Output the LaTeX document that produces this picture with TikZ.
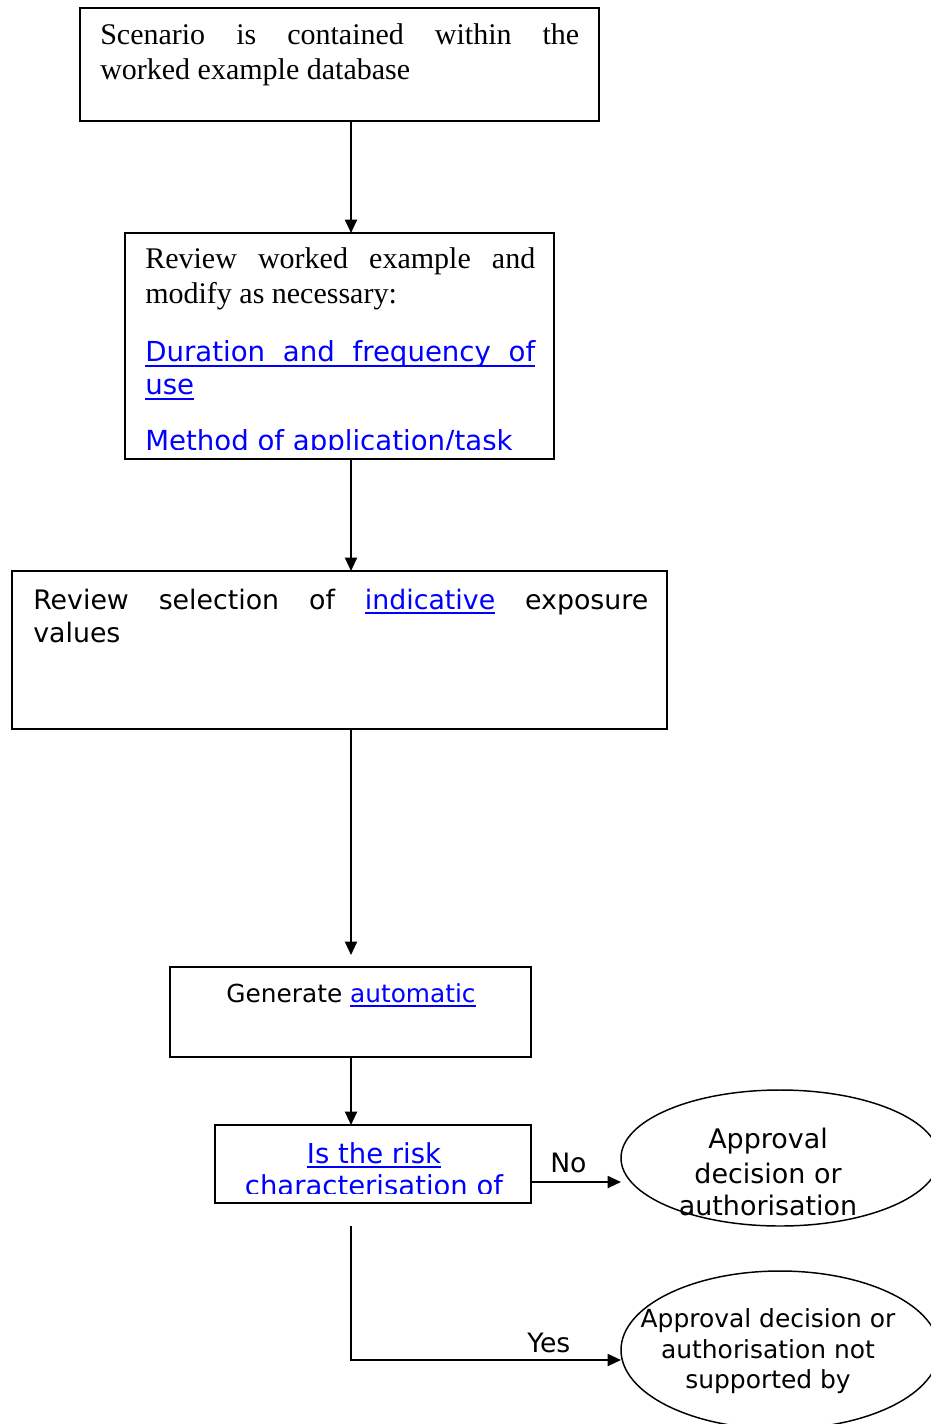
\documentclass[tikz,border=0pt]{standalone}
\usepackage{fontspec}
\setmainfont{Liberation Serif}
\newfontfamily\sansv{DejaVu Sans}
\usetikzlibrary{arrows.meta,shapes.geometric}
\definecolor{linkblue}{RGB}{0,0,255}
\newsavebox\ulbox
\newcommand\ulin[1]{\sbox\ulbox{#1}\rlap{\rule[-3.75pt]{\wd\ulbox}{1.5pt}}\usebox\ulbox}
\begin{document}
\begin{tikzpicture}[x=0.75pt,y=-0.75pt,
  box/.style={draw, line width=1.4pt, inner sep=0pt, outer sep=0pt, anchor=north west},
  arr/.style={line width=1.4pt, -{Triangle[length=10pt,width=9pt]}},
  serifline/.style={inner sep=0pt, anchor=base west, font=\fontsize{22.5}{26.25}\selectfont},
  sansline/.style={inner sep=0pt, anchor=base west, font=\sansv\fontsize{20.7}{24.75}\selectfont},
  sansthree/.style={inner sep=0pt, anchor=base west, font=\sansv\fontsize{20.1}{24.75}\selectfont},
  genline/.style={inner sep=0pt, anchor=base, font=\sansv\fontsize{18.6}{24}\selectfont},
  riskline/.style={inner sep=0pt, anchor=base, text=linkblue, font=\sansv\fontsize{20.6}{24}\selectfont},
  ellA/.style={inner sep=0pt, anchor=base, font=\sansv\fontsize{20.2}{25}\selectfont},
  ellB/.style={inner sep=0pt, anchor=base, font=\sansv\fontsize{18.7}{23}\selectfont},
  lbl/.style={inner sep=0pt, anchor=base west, font=\sansv\fontsize{20}{24}\selectfont},
  oval/.style={draw, ellipse, line width=1.1pt, inner sep=0pt, outer sep=0pt}]
\useasboundingbox (0,0) rectangle (931,1424);
\clip (0,0) rectangle (931,1424);
\coordinate (ax) at (351,0);

% box 1
\node[box, minimum width=389.25pt, minimum height=84.75pt] (b1) at (80,8) {};
\node[serifline] (t1a) at (100,44) {\makebox[359.25pt][s]{Scenario is contained within the}};
\node[serifline] (t1b) at (100,79) {worked example database};

% box 2
\node[box, minimum width=321.75pt, minimum height=169.5pt] (b2) at (125,233) {};
\begin{scope}
\clip (125,233) rectangle (554,449);
\node[serifline] (t2a) at (145,268) {\makebox[292.5pt][s]{Review worked example and}};
\node[serifline] (t2b) at (145,303) {modify as necessary:};
\node[sansline, text=linkblue] (t2c) at (145,361.5) {\ulin{\makebox[292.5pt][s]{Duration and frequency of}}};
\node[sansline, text=linkblue] (t2d) at (145,394.5) {\ulin{use}};
\node[sansline, text=linkblue] (t2e) at (145,450) {Method of application/task};
\end{scope}

% box 3
\node[box, minimum width=491.25pt, minimum height=118.5pt] (b3) at (12,571) {};
\begin{scope}
\clip (12,571) rectangle (667,719);
\node[sansthree] (t3a) at (33,609) {\makebox[461.25pt][s]{Review selection of \textcolor{linkblue}{\ulin{indicative}} exposure}};
\node[sansthree] (t3b) at (33,642) {values};
\end{scope}

% box 4
\node[box, minimum width=270.75pt, minimum height=67.5pt] (b4) at (170,967) {};
\node[genline] (t4) at (351,1002) {Generate \textcolor{linkblue}{\ulin{automatic}}};

% box 5
\node[box, minimum width=237pt, minimum height=58.5pt] (b5) at (215,1125) {};
\begin{scope}
\clip (215,1125) rectangle (531,1193);
\node[riskline] (t5a) at (374,1163) {\ulin{Is the risk}};
\node[riskline] (t5b) at (374,1195) {characterisation of};
\end{scope}

% ellipses
\node[oval, minimum width=238.5pt, minimum height=102pt] (e1) at (780,1158) {};
\node[ellA] (e1a) at (768,1148) {Approval};
\node[ellA] (e1b) at (768,1183) {decision or};
\node[ellA] (e1c) at (768,1215) {authorisation};

\node[oval, minimum width=238.5pt, minimum height=118.5pt] (e2) at (780,1350) {};
\node[ellB] (e2a) at (768,1327) {Approval decision or};
\node[ellB] (e2b) at (768,1358) {authorisation not};
\node[ellB] (e2c) at (768,1388) {supported by};

% connectors
\draw[arr] (b1.south -| ax) -- (b2.north -| ax);
\draw[arr] (b2.south -| ax) -- (b3.north -| ax);
\draw[arr, shorten >=9pt] (b3.south -| ax) -- (b4.north -| ax);
\draw[arr] (b4.south -| ax) -- (b5.north -| ax);
\draw[arr] ([yshift=-13.5pt]b5.east) -- ([yshift=-13.5pt]b5.east -| e1.west);
\node[lbl] (no) at (550,1172) {No};
\draw[arr, shorten <=17.25pt] (b5.south -| ax) |- ([yshift=-7.5pt]e2.west);
\node[lbl] (yes) at (527,1352) {Yes};
\end{tikzpicture}
\end{document}
